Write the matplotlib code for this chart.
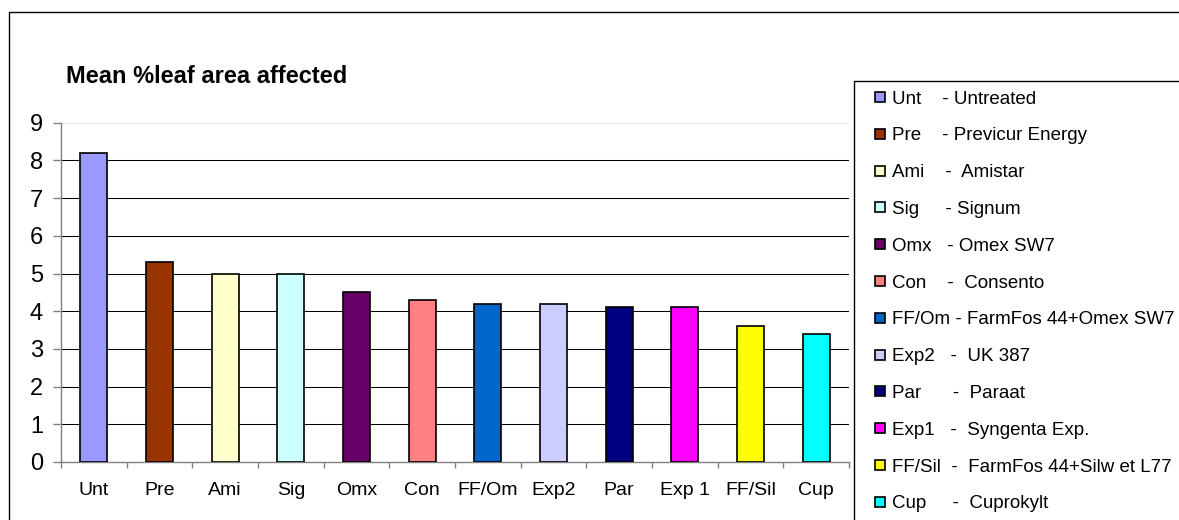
import numpy as np
import matplotlib
matplotlib.use("Agg")
import matplotlib.pyplot as plt
from matplotlib.patches import Rectangle
from matplotlib.legend_handler import HandlerPatch

plt.rcParams["font.family"] = ["Liberation Sans", "DejaVu Sans"]

# data
codes = ["Unt", "Pre", "Ami", "Sig", "Omx", "Con",
         "FF/Om", "Exp2", "Par", "Exp 1", "FF/Sil", "Cup"]
values = [8.2, 5.3, 5.0, 5.0, 4.5, 4.3, 4.2, 4.2, 4.1, 4.1, 3.6, 3.4]
colors = ["#9999FF", "#993300", "#FFFFCC", "#CCFFFF", "#660066", "#FF8080",
          "#0066CC", "#CCCCFF", "#000080", "#FF00FF", "#FFFF00", "#00FFFF"]
legend_labels = [
    "Unt    - Untreated",
    "Pre    - Previcur Energy",
    "Ami    -  Amistar",
    "Sig     - Signum",
    "Omx   - Omex SW7",
    "Con    -  Consento",
    "FF/Om - FarmFos 44+Omex SW7",
    "Exp2   -  UK 387",
    "Par      -  Paraat",
    "Exp1   -  Syngenta Exp.",
    "FF/Sil  -  FarmFos 44+Silw et L77",
    "Cup     -  Cuprokylt",
]

W, H = 1179, 520
fig = plt.figure(figsize=(W / 100, H / 100), dpi=100)

# outer chart border (runs off the right and bottom edges)
fig.add_artist(Rectangle((9 / W, -0.1), 1.2, 1.1 - 12 / H, transform=fig.transFigure,
                         fill=False, edgecolor="black", linewidth=1))

ax = fig.add_axes([61 / W, 1 - 462 / H, (849 - 61) / W, (462 - 122.7) / H])

x = np.arange(len(codes))
ax.bar(x, values, width=0.41, color=colors, edgecolor="black", linewidth=1.2, zorder=3)

for y in range(1, 9):
    ax.axhline(y, color="black", linewidth=0.75, zorder=1)
ax.axhline(9, color="#e6e6e6", linewidth=0.75, zorder=1)

ax.set_xlim(-0.5, len(codes) - 0.5)
ax.set_ylim(0, 9)
ax.set_yticks(range(10))
ax.set_xticks(x)
ax.set_xticklabels(codes)
ax.set_xticks(np.arange(-0.5, len(codes), 1), minor=True)

for s in ["top", "right"]:
    ax.spines[s].set_visible(False)
for s in ["left", "bottom"]:
    ax.spines[s].set_color("#808080")
    ax.spines[s].set_linewidth(1)

ax.tick_params(axis="x", which="major", length=0, pad=14.5, labelsize=14)
ax.tick_params(axis="x", which="minor", length=4, width=1, color="#808080")
ax.tick_params(axis="y", length=6, width=1, pad=7, labelsize=17, color="#808080")

fig.text(66 / W, 1 - 83 / H, "Mean %leaf area affected", fontsize=17,
         fontweight="bold", va="baseline")


def small_square(legend, orig_handle, xdescent, ydescent, width, height, fontsize):
    s = 7.2
    return Rectangle((-xdescent + width - s - 1, -ydescent + (height - s) / 2), s, s)


handles = [Rectangle((0, 0), 1, 1, facecolor=c, edgecolor="black", linewidth=1.2)
           for c in colors]
leg = fig.legend(handles, legend_labels, loc="upper left",
                 bbox_to_anchor=(854 / W, 1 - 81 / H), borderaxespad=0,
                 fontsize=13.5, frameon=True, fancybox=False, framealpha=1,
                 edgecolor="black", borderpad=0.5, labelspacing=1.05,
                 handlelength=1.25, handletextpad=0.3,
                 handler_map={Rectangle: HandlerPatch(patch_func=small_square)})
leg.get_frame().set_linewidth(1)

fig.savefig("out.png", dpi=100)
